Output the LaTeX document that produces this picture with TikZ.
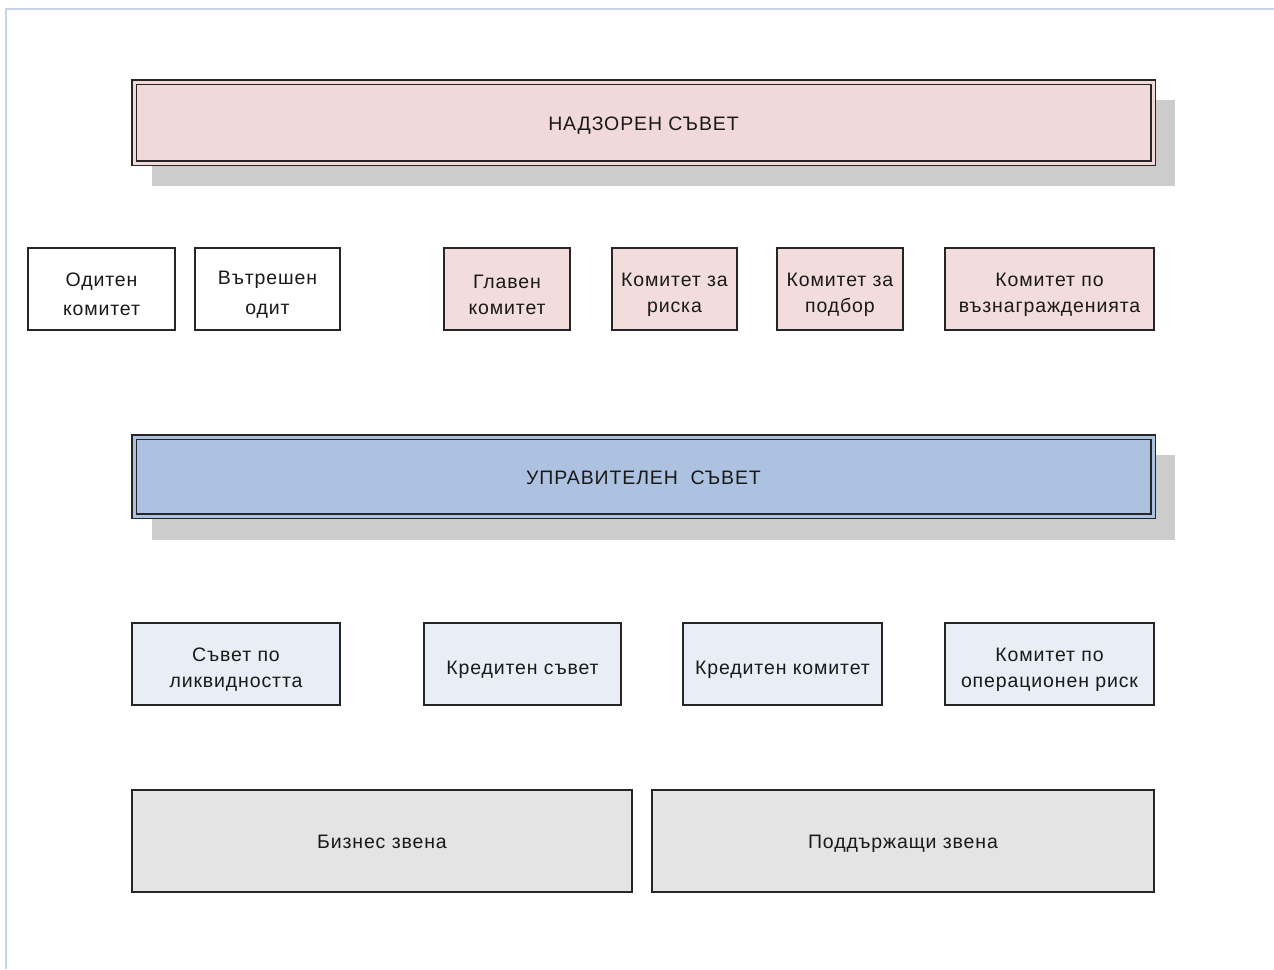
\documentclass[tikz,border=0pt]{standalone}
\usepackage{fontspec}
\setmainfont{Liberation Sans}[LetterSpace=4.5]
\newcommand\sst{\rule[-1pt]{0pt}{26pt}}
\begin{document}
\begin{tikzpicture}[x=1pt,y=-1pt,
  every node/.style={font=\fontsize{19.5}{26}\selectfont, align=center, inner sep=0pt, text=black!90},
  box/.style={draw=black!85, line width=1.4pt, rectangle, minimum height=82pt},
  pinkbox/.style={box, fill=pinkc},
  whitebox/.style={box, fill=white},
  bluebox/.style={box, fill=lbluec},
  greybox/.style={box, fill=greyc, minimum height=102pt, text height=14pt, text depth=0pt},
  bigbar/.style={draw=black!85, line width=1.2pt, double distance=3pt, rectangle, minimum width=1019pt, text height=16pt, text depth=0pt},
  shadowfill/.style={fill=shadowc, draw=none}
]
\definecolor{pinkc}{RGB}{242,220,220}
\definecolor{pinkbar}{RGB}{241,217,217}
\definecolor{bluebar}{RGB}{173,194,224}
\definecolor{lbluec}{RGB}{232,237,246}
\definecolor{greyc}{RGB}{228,228,228}
\definecolor{shadowc}{RGB}{204,204,204}
\definecolor{framec}{RGB}{200,213,232}
\useasboundingbox (0,0) rectangle (1274,969);
\fill[white] (0,0) rectangle (1274,969);
% frame lines
\coordinate (fa) at (6,969);
\coordinate (fb) at (6,9);
\coordinate (fc) at (1274,9);
\draw[framec, line width=2pt] (fa) -- (fb) -- (fc);

% shadows
\fill[shadowfill] (152,100) rectangle (1175,186);
\fill[shadowfill] (152,455) rectangle (1175,540);

% big bars
\node[bigbar, fill=pinkbar, double=pinkbar, minimum height=81pt] (super) at (643.5,122.5) {НАДЗОРЕН СЪВЕТ};
\node[bigbar, fill=bluebar, double=bluebar, minimum height=79pt] (mgmt) at (643.5,476.5) {УПРАВИТЕЛЕН\ \ СЪВЕТ};

% row of committees
\node[whitebox, minimum width=147pt] (audit) at (101.5,289) {\sst Одитен\\\sst комитет};
\node[whitebox, minimum width=145pt] (intaudit) at (267.5,289) {\sst Вътрешен\\\sst одит};
\node[pinkbox, minimum width=126pt] (main) at (507,289) {\sst Главен\\\sst комитет};
\node[pinkbox, minimum width=125pt] (risk) at (674.5,289) {\sst Комитет за\\\sst риска};
\node[pinkbox, minimum width=126pt] (select) at (840,289) {\sst Комитет за\\\sst подбор};
\node[pinkbox, minimum width=209pt] (remun) at (1049.5,289) {\sst Комитет по\\\sst възнагражденията};

% management committees
\node[bluebox, minimum width=208pt] (liq) at (236,664) {\sst Съвет по\\\sst ликвидността};
\node[bluebox, minimum width=197pt] (credc) at (522.5,664) {\sst Кредитен съвет};
\node[bluebox, minimum width=199pt] (credk) at (782.5,664) {\sst Кредитен комитет};
\node[bluebox, minimum width=209pt] (oprisk) at (1049.5,664) {\sst Комитет по\\\sst операционен риск};

% units
\node[greybox, minimum width=500pt] (biz) at (382,841) {Бизнес звена};
\node[greybox, minimum width=502pt] (supp) at (903,841) {Поддържащи звена};
\end{tikzpicture}
\end{document}
